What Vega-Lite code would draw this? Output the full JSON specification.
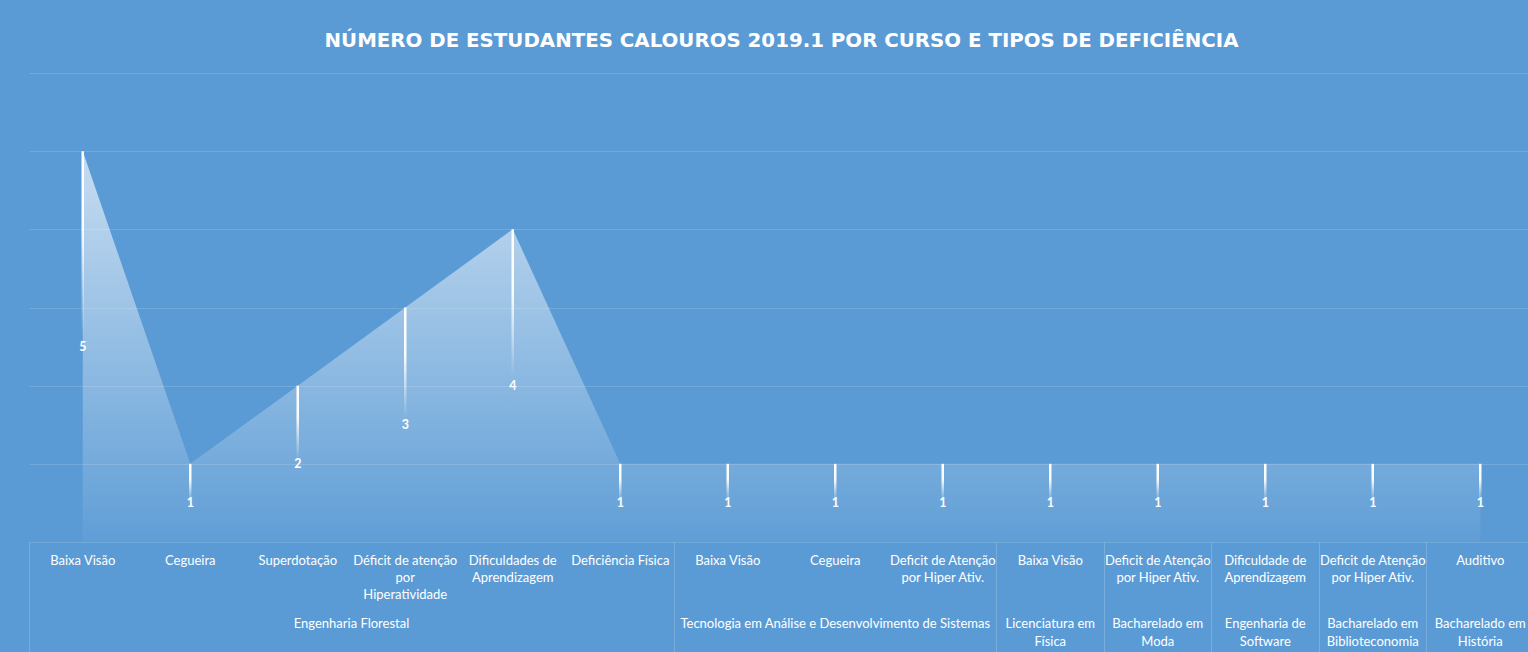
{
  "$schema": "https://vega.github.io/schema/vega-lite/v6.json",
  "width": 1505,
  "height": 469,
  "autosize": "none",
  "padding": {"left": 29, "top": 73, "right": 0, "bottom": 110},
  "background": "#5B9BD5",
  "config": {"view": {"stroke": null}},
  "title": {
    "text": "NÚMERO DE ESTUDANTES CALOUROS 2019.1 POR CURSO E TIPOS DE DEFICIÊNCIA",
    "color": "#FFFFFF",
    "font": "DejaVu Sans",
    "fontSize": 19.8,
    "fontWeight": "bold",
    "anchor": "middle",
    "offset": 22
  },
  "data": {
    "values": [
      {"cat": "Engenharia Florestal|Baixa Visão", "grupo": "Engenharia Florestal", "idx": 0, "n": 5},
      {"cat": "Engenharia Florestal|Cegueira", "grupo": "Engenharia Florestal", "idx": 1, "n": 1},
      {"cat": "Engenharia Florestal|Superdotação", "grupo": "Engenharia Florestal", "idx": 2, "n": 2},
      {"cat": "Engenharia Florestal|Déficit de atenção\npor\nHiperatividade", "grupo": "Engenharia Florestal", "idx": 3, "n": 3},
      {"cat": "Engenharia Florestal|Dificuldades de\nAprendizagem", "grupo": "Engenharia Florestal", "idx": 4, "n": 4},
      {"cat": "Engenharia Florestal|Deficiência Física", "grupo": "Engenharia Florestal", "idx": 5, "n": 1},
      {"cat": "Tecnologia em Análise e Desenvolvimento de Sistemas|Baixa Visão", "grupo": "Tecnologia em Análise e Desenvolvimento de Sistemas", "idx": 6, "n": 1},
      {"cat": "Tecnologia em Análise e Desenvolvimento de Sistemas|Cegueira", "grupo": "Tecnologia em Análise e Desenvolvimento de Sistemas", "idx": 7, "n": 1},
      {"cat": "Tecnologia em Análise e Desenvolvimento de Sistemas|Deficit de Atenção\npor Hiper Ativ.", "grupo": "Tecnologia em Análise e Desenvolvimento de Sistemas", "idx": 8, "n": 1},
      {"cat": "Licenciatura em Física|Baixa Visão", "grupo": "Licenciatura em\nFísica", "idx": 9, "n": 1},
      {"cat": "Bacharelado em Moda|Deficit de Atenção\npor Hiper Ativ.", "grupo": "Bacharelado em\nModa", "idx": 10, "n": 1},
      {"cat": "Engenharia de Software|Dificuldade de\nAprendizagem", "grupo": "Engenharia de\nSoftware", "idx": 11, "n": 1},
      {"cat": "Bacharelado em Biblioteconomia|Deficit de Atenção\npor Hiper Ativ.", "grupo": "Bacharelado em\nBiblioteconomia", "idx": 12, "n": 1},
      {"cat": "Bacharelado em História|Auditivo", "grupo": "Bacharelado em\nHistória", "idx": 13, "n": 1}
    ]
  },
  "layer": [
    {
      "mark": {
        "type": "area",
        "interpolate": "linear",
        "color": {
          "gradient": "linear",
          "x1": 0, "y1": 0, "x2": 0, "y2": 1,
          "stops": [
            {"offset": 0, "color": "rgba(255,255,255,0.66)"},
            {"offset": 1, "color": "rgba(255,255,255,0.03)"}
          ]
        }
      },
      "encoding": {
        "x": {
          "field": "cat",
          "type": "nominal",
          "sort": null,
          "scale": {"type": "band", "paddingInner": 0, "paddingOuter": 0},
          "axis": {
            "orient": "bottom",
            "title": null,
            "domain": false,
            "labelAngle": 0,
            "labelExpr": "split(split(datum.value, '|')[1], '\\n')",
            "labelColor": "#FFFFFF",
            "labelFont": "Lato",
            "labelFontSize": 13,
            "labelLineHeight": 17,
            "labelBaseline": "top",
            "labelPadding": -103,
            "labelLimit": 0,
            "bandPosition": 0,
            "tickSize": 115,
            "tickColor": "#FFFFFF",
            "tickWidth": 1,
            "tickOpacity": {
              "condition": {
                "test": "indexof(datum.value, '|Baixa Visão') >= 0 || (indexof(datum.value, 'Engenharia Florestal') < 0 && indexof(datum.value, 'Tecnologia') < 0)",
                "value": 0.18
              },
              "value": 0
            },
            "grid": false
          }
        },
        "y": {
          "field": "n",
          "type": "quantitative",
          "scale": {"domain": [0, 6], "nice": false, "zero": true},
          "axis": {
            "title": null,
            "labels": false,
            "ticks": false,
            "domain": false,
            "grid": true,
            "values": [0, 1, 2, 3, 4, 5, 6],
            "gridColor": "#FFFFFF",
            "gridOpacity": 0.14,
            "gridWidth": 1
          }
        }
      }
    },
    {
      "mark": {
        "type": "bar",
        "size": 2.5,
        "color": {
          "gradient": "linear",
          "x1": 0, "y1": 0, "x2": 0, "y2": 1,
          "stops": [
            {"offset": 0, "color": "rgba(255,255,255,1)"},
            {"offset": 0.2, "color": "rgba(255,255,255,0.95)"},
            {"offset": 0.47, "color": "rgba(255,255,255,0)"},
            {"offset": 1, "color": "rgba(255,255,255,0)"}
          ]
        }
      },
      "encoding": {
        "x": {"field": "cat", "type": "nominal", "sort": null, "scale": {"type": "band", "paddingInner": 0, "paddingOuter": 0}, "axis": null},
        "y": {"field": "n", "type": "quantitative", "scale": {"domain": [0, 6], "nice": false}, "axis": null}
      }
    },
    {
      "mark": {"type": "text", "color": "#FFFFFF", "font": "Lato", "fontWeight": "bold", "fontSize": 12.5, "baseline": "middle", "align": "center"},
      "encoding": {
        "x": {"field": "cat", "type": "nominal", "sort": null, "scale": {"type": "band", "paddingInner": 0, "paddingOuter": 0}, "axis": null},
        "y": {"field": "n", "type": "quantitative", "scale": {"domain": [0, 12], "nice": false}, "axis": null},
        "text": {"field": "n", "type": "quantitative"}
      }
    },
    {
      "mark": {"type": "text", "color": "#FFFFFF", "font": "Lato", "fontSize": 13, "baseline": "top", "align": "center", "lineBreak": "\n", "lineHeight": 18},
      "encoding": {
        "x": {"aggregate": "mean", "field": "idx", "type": "quantitative", "scale": {"domain": [-0.5, 13.5], "nice": false, "zero": false}, "axis": null},
        "y": {"datum": -0.975, "type": "quantitative", "scale": {"domain": [0, 6], "nice": false}, "axis": null},
        "text": {"field": "grupo", "type": "nominal"}
      }
    }
  ],
  "resolve": {"scale": {"x": "independent", "y": "independent"}}
}
